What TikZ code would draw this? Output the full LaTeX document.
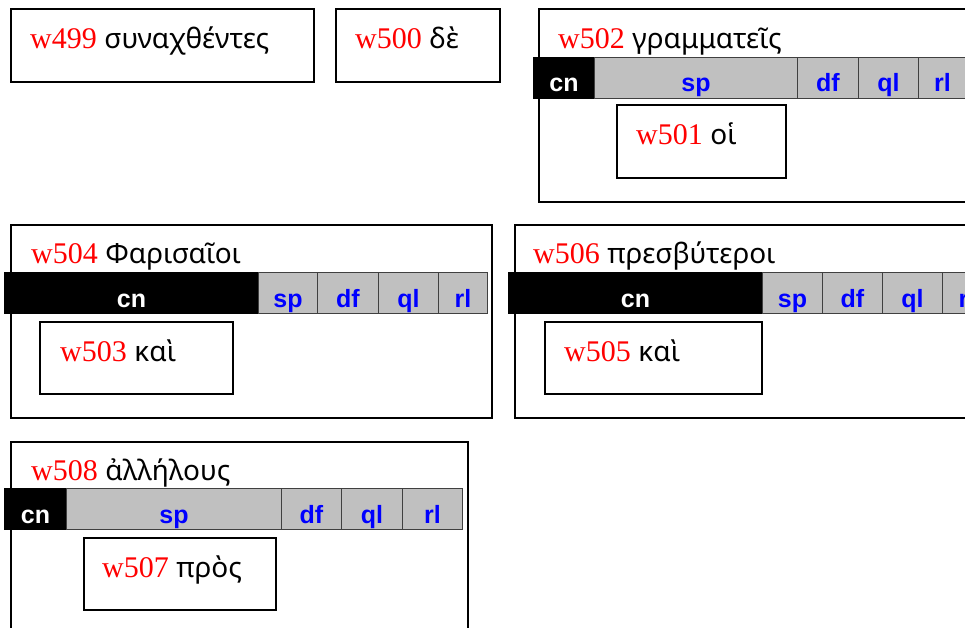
\documentclass[tikz,border=0pt]{standalone}
\usepackage{fontspec}
\setmainfont{Liberation Serif}
\newfontfamily\grk{Noto Sans}
\newfontfamily\lab{Liberation Sans}
\definecolor{cellgray}{RGB}{192,192,192}
\definecolor{cellline}{RGB}{64,64,64}
\definecolor{wred}{RGB}{255,0,0}
\definecolor{lblue}{RGB}{0,0,255}
\tikzset{
  wbox/.style={draw=black, line width=2pt, anchor=north west, inner sep=0pt, fill=white},
  wtext/.style={anchor=base west, inner sep=0pt, font=\fontsize{30}{36}\selectfont},
  cnbox/.style={draw=black, fill=black, line width=1pt, anchor=north west, inner sep=0pt, minimum height=41pt},
  gcell/.style={draw=cellline, fill=cellgray, line width=1pt, anchor=north west, inner sep=0pt, minimum height=41pt},
  cnlab/.style={anchor=base, inner sep=0pt, text=white, font=\lab\bfseries\fontsize{25}{30}\selectfont},
  glab/.style={anchor=base, inner sep=0pt, text=lblue, font=\lab\bfseries\fontsize{25}{30}\selectfont},
}
\newcommand{\wlab}[2]{\textcolor{wred}{#1} {\grk\fontsize{28}{34}\selectfont #2}}
% bar: prefix, y, x0..x5
\newcommand{\mybar}[7]{%
  \node[cnbox, minimum width=#4-#3] (#1cn) at (#3,#2) {};
  \node[gcell, minimum width=#5-#4] (#1sp) at (#4,#2) {};
  \node[gcell, minimum width=#6-#5] (#1df) at (#5,#2) {};
  \node[gcell, minimum width=#7-#6] (#1ql) at (#6,#2) {};
  \node[cnlab] (#1cnt) at ([yshift=7pt]#1cn.south) {cn};
  \node[glab] (#1spt) at ([yshift=7pt]#1sp.south) {sp};
  \node[glab] (#1dft) at ([yshift=7pt]#1df.south) {df};
  \node[glab] (#1qlt) at ([yshift=7pt]#1ql.south) {ql};
}
\begin{document}
\begin{tikzpicture}[x=1pt,y=-1pt]
\useasboundingbox (0,0) rectangle (965,628);
\clip (0,0) rectangle (965,628);
\fill[white] (0,0) rectangle (965,628);
% row 1
\node[wbox, minimum width=303pt, minimum height=73pt] (b499) at (10,8) {};
\node[wtext] (t499) at (30,49) {\wlab{w499}{συναχθέντες}};
\node[wbox, minimum width=164pt, minimum height=73pt] (b500) at (335,8) {};
\node[wtext] (t500) at (355,49) {\wlab{w500}{δὲ}};
\node[wbox, minimum width=440pt, minimum height=193pt] (b502) at (538,8) {};
\node[wtext] (t502) at (558,49) {\wlab{w502}{γραμματεῖς}};
\mybar{a}{57}{533}{594}{797}{858}{918}
\node[gcell, minimum width=48pt] (arl) at (918,57) {};
\node[glab] (arlt) at ([yshift=7pt]arl.south) {rl};
\node[wbox, minimum width=169pt, minimum height=73pt] (b501) at (616,104) {};
\node[wtext] (t501) at (636,145) {\wlab{w501}{οἱ}};
% row 2
\node[wbox, minimum width=481pt, minimum height=193pt] (b504) at (10,224) {};
\node[wtext] (t504) at (31,263) {\wlab{w504}{Φαρισαῖοι}};
\mybar{b}{272}{4}{258}{317}{378}{438}
\node[gcell, minimum width=49pt] (brl) at (438,272) {};
\node[glab] (brlt) at ([yshift=7pt]brl.south) {rl};
\node[wbox, minimum width=500pt, minimum height=193pt] (b506) at (514,224) {};
\node[wbox, minimum width=193pt, minimum height=72pt] (b503) at (39,321) {};
\node[wtext] (t503) at (60,361) {\wlab{w503}{καὶ}};
\node[wtext] (t506) at (533,263) {\wlab{w506}{πρεσβύτεροι}};
\mybar{c}{272}{508}{762}{822}{882}{942}
\node[gcell, minimum width=49pt] (crl) at (942,272) {};
\node[glab] (crlt) at ([yshift=7pt]crl.south) {rl};
\node[wbox, minimum width=217pt, minimum height=72pt] (b505) at (544,321) {};
\node[wtext] (t505) at (564,361) {\wlab{w505}{καὶ}};
% row 3
\node[wbox, minimum width=457pt, minimum height=200pt] (b508) at (10,441) {};
\node[wtext] (t508) at (31,480) {\wlab{w508}{ἀλλήλους}};
\mybar{d}{488}{4}{66}{281}{341}{402}
\node[gcell, minimum width=60pt] (drl) at (402,488) {};
\node[glab] (drlt) at ([yshift=7pt]drl.south) {rl};
\node[wbox, minimum width=192pt, minimum height=72pt] (b507) at (83,537) {};
\node[wtext] (t507) at (102,577) {\wlab{w507}{πρὸς}};
\end{tikzpicture}
\end{document}
